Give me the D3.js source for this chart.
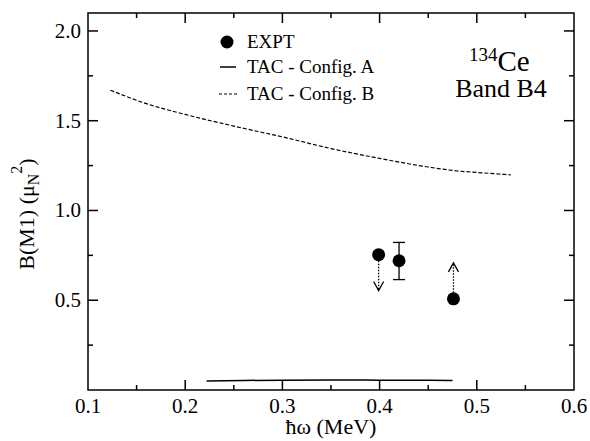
<!DOCTYPE html>
<html>
<head>
<meta charset="utf-8">
<script src="https://cdn.jsdelivr.net/npm/d3@7"></script>
<style>
  body { margin: 0; background: #fff; }
  text { font-family: "Liberation Serif", "DejaVu Serif", serif; }
</style>
</head>
<body>
<svg id="chart" width="590" height="441"></svg>
<script>
// TAC - Config. B (dashed)
const dash_x = [0.123, 0.16, 0.20, 0.25, 0.30, 0.35, 0.40, 0.45, 0.48, 0.50, 0.535]
const dash_y = [1.67, 1.595, 1.535, 1.47, 1.41, 1.345, 1.29, 1.242, 1.22, 1.212, 1.198]
// TAC - Config. A (solid)
const solid_x = [0.222, 0.26, 0.30, 0.35, 0.40, 0.45, 0.475]
const solid_y = [0.05, 0.053, 0.055, 0.056, 0.055, 0.054, 0.053]
// experimental points
const expt_x = [0.399, 0.420, 0.476]
const expt_y = [0.754, 0.72, 0.508]
const err_lo = [null, 0.615, null]
const err_hi = [null, 0.822, null]
const limit_tip = [0.554, null, 0.708]   // arrows for limits

const x_ticks = [0.1, 0.2, 0.3, 0.4, 0.5, 0.6]
const y_ticks = [0.5, 1.0, 1.5, 2.0]

const margin = { left: 88, right: 16, top: 13, bottom: 51 }
const width = 590
const height = 441

const svg = d3.select("#chart")
const x = d3.scaleLinear().domain([0.1, 0.6]).range([margin.left, width - margin.right])
const y = d3.scaleLinear().domain([0, 2.1]).range([height - margin.bottom, margin.top])

const x0 = x.range()[0], x1 = x.range()[1]
const y0 = y.range()[0], y1 = y.range()[1]

// frame
svg.append("rect")
    .attr("x", x0).attr("y", y1)
    .attr("width", x1 - x0).attr("height", y0 - y1)
    .attr("fill", "none").attr("stroke", "#000").attr("stroke-width", 1.5)

// ticks (inward, on all four sides)
const xMinor = d3.range(0.15, 0.6, 0.1)
const yMinor = [0.25, 0.75, 1.25, 1.75]
const tickG = svg.append("g").attr("stroke", "#000").attr("stroke-width", 1.5)
function xt(v, len) {
    tickG.append("line").attr("x1", x(v)).attr("x2", x(v)).attr("y1", y0).attr("y2", y0 - len)
    tickG.append("line").attr("x1", x(v)).attr("x2", x(v)).attr("y1", y1).attr("y2", y1 + len)
}
function yt(v, len) {
    tickG.append("line").attr("y1", y(v)).attr("y2", y(v)).attr("x1", x0).attr("x2", x0 + len)
    tickG.append("line").attr("y1", y(v)).attr("y2", y(v)).attr("x1", x1).attr("x2", x1 - len)
}
x_ticks.slice(1, -1).forEach(v => xt(v, 10))
xMinor.forEach(v => xt(v, 5))
y_ticks.forEach(v => yt(v, 10))
yMinor.forEach(v => yt(v, 5))

// tick labels
svg.append("g").selectAll("text")
    .data(x_ticks)
    .join("text")
    .attr("x", d => x(d))
    .attr("y", y0 + 23)
    .attr("text-anchor", "middle")
    .attr("font-size", 21)
    .text(d => d3.format(".1f")(d))

svg.append("g").selectAll("text")
    .data(y_ticks)
    .join("text")
    .attr("x", x0 - 7)
    .attr("y", d => y(d) + 7)
    .attr("text-anchor", "end")
    .attr("font-size", 21)
    .text(d => d3.format(".1f")(d))

// axis titles
svg.append("text")
    .attr("x", (x0 + x1) / 2)
    .attr("y", 434)
    .attr("text-anchor", "middle")
    .attr("font-size", 22)
    .text("ħω (MeV)")

const yl = svg.append("text")
    .attr("transform", "translate(34,214) rotate(-90)")
    .attr("text-anchor", "middle")
    .attr("font-size", 22)
yl.append("tspan").text("B(M1) (μ")
yl.append("tspan").attr("font-size", 16).attr("dy", 5).text("N")
yl.append("tspan").attr("font-size", 16).attr("dy", -17).text("2")
yl.append("tspan").attr("dy", 12).text(")")

// curves
const line = d3.line().x(d => x(d[0])).y(d => y(d[1])).curve(d3.curveMonotoneX)

svg.append("path")
    .attr("d", line(d3.zip(dash_x, dash_y)))
    .attr("fill", "none").attr("stroke", "#000").attr("stroke-width", 1.2)
    .attr("stroke-dasharray", "4,2")

svg.append("path")
    .attr("d", line(d3.zip(solid_x, solid_y)))
    .attr("fill", "none").attr("stroke", "#000").attr("stroke-width", 1.5)

// error bars
expt_x.forEach((v, i) => {
    if (err_lo[i] == null) return
    const g = svg.append("g").attr("stroke", "#000").attr("stroke-width", 1.3)
    g.append("line").attr("x1", x(v)).attr("x2", x(v)).attr("y1", y(err_lo[i])).attr("y2", y(err_hi[i]))
    g.append("line").attr("x1", x(v) - 6).attr("x2", x(v) + 6).attr("y1", y(err_lo[i])).attr("y2", y(err_lo[i]))
    g.append("line").attr("x1", x(v) - 6).attr("x2", x(v) + 6).attr("y1", y(err_hi[i])).attr("y2", y(err_hi[i]))
})

// limit arrows (dotted shaft, open head)
expt_x.forEach((v, i) => {
    if (limit_tip[i] == null) return
    const px = x(v), py = y(expt_y[i]), ty = y(limit_tip[i])
    const dir = ty > py ? 1 : -1
    svg.append("line")
        .attr("x1", px).attr("x2", px).attr("y1", py).attr("y2", ty)
        .attr("stroke", "#000").attr("stroke-width", 1.3).attr("stroke-dasharray", "1.5,1.5")
    svg.append("path")
        .attr("d", "M" + (px - 5) + "," + (ty - dir * 9) + "L" + px + "," + ty + "L" + (px + 5) + "," + (ty - dir * 9))
        .attr("fill", "none").attr("stroke", "#000").attr("stroke-width", 1.3)
})

svg.append("g").selectAll("circle")
    .data(d3.zip(expt_x, expt_y))
    .join("circle")
    .attr("cx", d => x(d[0]))
    .attr("cy", d => y(d[1]))
    .attr("r", 6.5)
    .attr("fill", "#000")

// legend
const leg = svg.append("g")
leg.append("circle").attr("cx", 227).attr("cy", 42).attr("r", 6.5).attr("fill", "#000")
leg.append("line").attr("x1", 220).attr("x2", 236).attr("y1", 67).attr("y2", 67)
    .attr("stroke", "#000").attr("stroke-width", 1.5)
leg.append("line").attr("x1", 219).attr("x2", 237).attr("y1", 94).attr("y2", 94)
    .attr("stroke", "#000").attr("stroke-width", 1.2).attr("stroke-dasharray", "3,2")
const legText = ["EXPT", "TAC - Config. A", "TAC - Config. B"]
leg.selectAll("text")
    .data(legText)
    .join("text")
    .attr("x", 247)
    .attr("y", (d, i) => [48, 73, 100][i])
    .attr("font-size", 19)
    .text(d => d)

// annotation
const ce = svg.append("text").attr("x", 469).attr("y", 71).attr("font-size", 29)
ce.append("tspan").attr("font-size", 19).attr("dy", -10).text("134")
ce.append("tspan").attr("dy", 10).text("Ce")
svg.append("text").attr("x", 501).attr("y", 97).attr("text-anchor", "middle")
    .attr("font-size", 26).text("Band B4")
</script>
</body>
</html>
